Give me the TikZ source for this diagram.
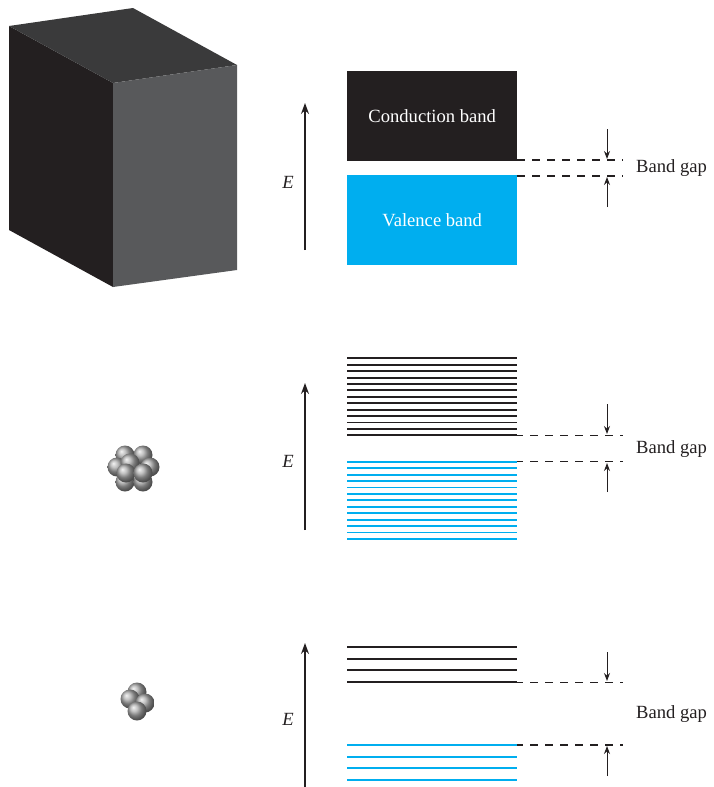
\documentclass[tikz,border=0pt]{standalone}
\usepackage{fontspec}
\setmainfont{Liberation Serif}
\usetikzlibrary{arrows.meta}
\definecolor{ink}{HTML}{231F20}
\definecolor{valence}{HTML}{00AEEF}
\definecolor{cubetop}{HTML}{3A3A3B}
\definecolor{cuberight}{HTML}{58595B}
\begin{document}
\begin{tikzpicture}[x=1pt,y=-1pt,
  lbl/.style={font=\fontsize{18.6}{22}\selectfont, text=ink, inner sep=0pt},
  bandbox/.style={minimum width=170pt, minimum height=90pt, inner sep=0pt,
    anchor=north west, text=white, font=\fontsize{18.6}{22}\selectfont},
  clevel/.style={draw=ink, line width=1.9pt},
  vlevel/.style={draw=valence, line width=1.9pt},
  gapline/.style={draw=ink, line width=1.3pt, dash pattern=on 8pt off 7pt},
  gaparrow/.style={draw=ink, line width=1pt, -{Stealth[length=8pt,width=6pt]}},
  eaxis/.style={draw=ink, line width=1.3pt, -{Stealth[length=11pt,width=8pt]}},
  atom/.style={shading=ball, ball color=gray!65}]
\useasboundingbox (0,0) rectangle (713,787);

% bulk crystal
\fill[ink] (9,26) -- (113,83) -- (113,287) -- (9,230) -- cycle;
\fill[cubetop] (9,26) -- (133,8) -- (237,65) -- (113,83) -- cycle;
\fill[cuberight] (113,83) -- (237,65) -- (237,270) -- (113,287) -- cycle;

% ---- bulk: continuous bands
\node[bandbox, fill=ink] (cb) at (347,71) {Conduction band};
\node[bandbox, fill=valence] (vb) at (347,175) {Valence band};
\coordinate (e1a) at (305,250); \coordinate (e1b) at (305,103);
\draw[eaxis] (e1a) -- (e1b);
\node[lbl] (E1) at (288,182) {\itshape E};
\coordinate (g1a) at (517,160); \coordinate (g1b) at (623,160);
\coordinate (g1c) at (517,176); \coordinate (g1d) at (623,176);
\draw[gapline] (g1a) -- (g1b);
\draw[gapline] (g1c) -- (g1d);
\coordinate (a1s) at (607,129); \coordinate (a1t) at (607,159);
\coordinate (a1u) at (607,207); \coordinate (a1v) at (607,177);
\draw[gaparrow] (a1s) -- (a1t);
\draw[gaparrow] (a1u) -- (a1v);
\node[lbl, anchor=west] (bg1) at (636,168) {Band gap};

% ---- larger cluster: dense discrete levels
\coordinate (g2a) at (455,435.3); \coordinate (g2b) at (623,435.3);
\coordinate (g2c) at (455,461.7); \coordinate (g2d) at (623,461.7);
\draw[gapline] (g2a) -- (g2b);
\draw[gapline] (g2c) -- (g2d);
\foreach \i in {0,...,12}{
  \pgfmathsetmacro{\yc}{358.3+6.42*\i}
  \pgfmathsetmacro{\yv}{461.7+6.44*\i}
  \draw[clevel] (347,\yc) -- (517,\yc);
  \draw[vlevel] (347,\yv) -- (517,\yv);
}
\coordinate (e2a) at (305,530); \coordinate (e2b) at (305,383);
\draw[eaxis] (e2a) -- (e2b);
\node[lbl] (E2) at (288,461) {\itshape E};
\coordinate (a2s) at (607,404); \coordinate (a2t) at (607,434);
\coordinate (a2u) at (607,492); \coordinate (a2v) at (607,463);
\draw[gaparrow] (a2s) -- (a2t);
\draw[gaparrow] (a2u) -- (a2v);
\node[lbl, anchor=west] (bg2) at (636,449) {Band gap};

% nine-atom cluster
\foreach \p in {(125,455),(143,455),(125,482),(143,482),(117,467),(150,467),(130,463),(126,473),(143,473)}
  \shade[atom] \p circle (9.5);

% ---- small cluster: few discrete levels
\coordinate (g3a) at (455,682.3); \coordinate (g3b) at (623,682.3);
\coordinate (g3c) at (455,745); \coordinate (g3d) at (623,745);
\draw[gapline] (g3a) -- (g3b);
\draw[gapline] (g3c) -- (g3d);
\foreach \i in {0,...,3}{
  \pgfmathsetmacro{\yc}{646.7+11.87*\i}
  \pgfmathsetmacro{\yv}{745+11.67*\i}
  \draw[clevel] (347,\yc) -- (517,\yc);
  \draw[vlevel] (347,\yv) -- (517,\yv);
}
\coordinate (e3a) at (305,787); \coordinate (e3b) at (305,643);
\draw[eaxis] (e3a) -- (e3b);
\node[lbl] (E3) at (288,719) {\itshape E};
\coordinate (a3s) at (607,652); \coordinate (a3t) at (607,681);
\coordinate (a3u) at (607,776); \coordinate (a3v) at (607,746);
\draw[gaparrow] (a3s) -- (a3t);
\draw[gaparrow] (a3u) -- (a3v);
\node[lbl, anchor=west] (bg3) at (636,714) {Band gap};

% four-atom cluster
\foreach \p in {(137,692),(130,699),(145,703),(137,711)}
  \shade[atom] \p circle (9.5);

\end{tikzpicture}
\end{document}
